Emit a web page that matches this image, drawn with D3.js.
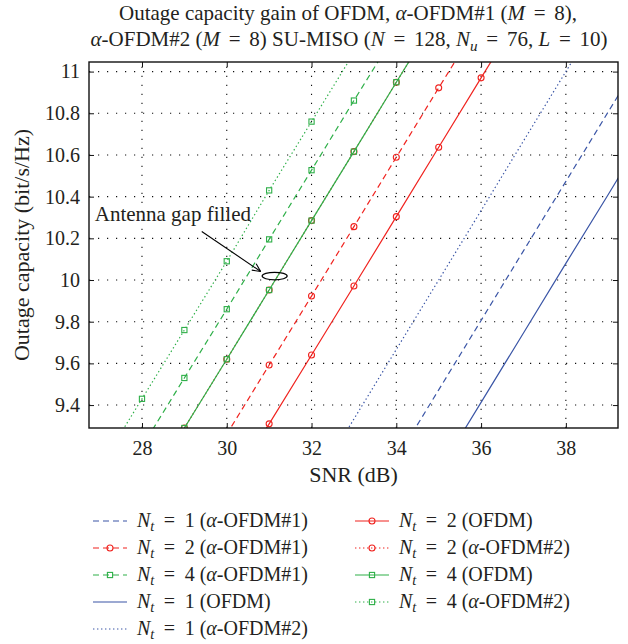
<!DOCTYPE html>
<html><head><meta charset="utf-8">
<script src="https://cdn.jsdelivr.net/npm/d3@7"></script>
<style>body{margin:0;background:#fff}</style>
</head><body>
<svg id="chart" width="628" height="644"></svg>
<script>
// ---------- data ----------
const snrTicks = [28, 30, 32, 34, 36, 38];
const capTicks = [9.4, 9.6, 9.8, 10, 10.2, 10.4, 10.6, 10.8, 11];
const snrDomain = [26.75, 39.23];
const capDomain = [9.29, 11.046];

// Nt = 1
const snr_nt1_ofdm = [35, 36, 37, 38, 39, 40];
const cap_nt1_ofdm = [9.08, 9.413, 9.746, 10.08, 10.41, 10.746];
const snr_nt1_a1 = [34, 35, 36, 37, 38, 39, 40];
const cap_nt1_a1 = [9.14, 9.473, 9.806, 10.14, 10.473, 10.807, 11.14];
const snr_nt1_a2 = [32, 33, 34, 35, 36, 37, 38, 39];
const cap_nt1_a2 = [9.0, 9.333, 9.667, 10.0, 10.333, 10.667, 11.0, 11.333];
// Nt = 2
const snr_nt2_ofdm = [30, 31, 32, 33, 34, 35, 36, 37];
const cap_nt2_ofdm = [8.98, 9.31, 9.64, 9.971, 10.304, 10.637, 10.97, 11.30];
const snr_nt2_a1 = [29, 30, 31, 32, 33, 34, 35, 36];
const cap_nt2_a1 = [8.93, 9.26, 9.592, 9.923, 10.256, 10.589, 10.922, 11.25];
const snr_nt2_a2 = [29, 30, 31, 32, 33, 34, 35];
const cap_nt2_a2 = [9.29, 9.62, 9.952, 10.285, 10.616, 10.949, 11.28];
// Nt = 4
const snr_nt4_ofdm = [29, 30, 31, 32, 33, 34, 35];
const cap_nt4_ofdm = [9.29, 9.62, 9.952, 10.285, 10.616, 10.949, 11.28];
const snr_nt4_a1 = [28, 29, 30, 31, 32, 33, 34];
const cap_nt4_a1 = [9.20, 9.53, 9.86, 10.195, 10.527, 10.861, 11.19];
const snr_nt4_a2 = [27, 28, 29, 30, 31, 32, 33];
const cap_nt4_a2 = [9.10, 9.43, 9.76, 10.09, 10.43, 10.76, 11.09];

// annotation (data units)
const annText = {snr: 26.885, cap: 10.284, label: "Antenna gap filled"};
const annArrow = {snr0: 29.41, cap0: 10.233, snr1: 30.80, cap1: 10.041};
const annEllipse = {snr: 31.13, cap: 10.019, dSnr: 0.295, dCap: 0.018};

// ---------- styling ----------
const BLUE = "#3a55a6", RED = "#f0231f", GREEN = "#2eaf48";
const DASH = "6,4", DOT = "1.4,2.6";
const FONT = "'Liberation Serif', 'DejaVu Serif', serif";
const TXT = "#231f20";

const series = [
  {snr: snr_nt1_ofdm, cap: cap_nt1_ofdm, color: BLUE, dash: null, marker: null, nt: 1, lab: "OFDM", alpha: false},
  {snr: snr_nt1_a1, cap: cap_nt1_a1, color: BLUE, dash: DASH, marker: null, nt: 1, lab: "-OFDM#1", alpha: true},
  {snr: snr_nt1_a2, cap: cap_nt1_a2, color: BLUE, dash: DOT, marker: null, nt: 1, lab: "-OFDM#2", alpha: true},
  {snr: snr_nt2_a1, cap: cap_nt2_a1, color: RED, dash: DASH, marker: "circle", nt: 2, lab: "-OFDM#1", alpha: true},
  {snr: snr_nt2_a2, cap: cap_nt2_a2, color: RED, dash: DOT, marker: "circle", nt: 2, lab: "-OFDM#2", alpha: true},
  {snr: snr_nt2_ofdm, cap: cap_nt2_ofdm, color: RED, dash: null, marker: "circle", nt: 2, lab: "OFDM", alpha: false},
  {snr: snr_nt4_a1, cap: cap_nt4_a1, color: GREEN, dash: DASH, marker: "square", nt: 4, lab: "-OFDM#1", alpha: true},
  {snr: snr_nt4_ofdm, cap: cap_nt4_ofdm, color: GREEN, dash: null, marker: "square", nt: 4, lab: "OFDM", alpha: false},
  {snr: snr_nt4_a2, cap: cap_nt4_a2, color: GREEN, dash: DOT, marker: "square", nt: 4, lab: "-OFDM#2", alpha: true}
];
// legend order: [seriesIndex]
const legendCol1 = [1, 3, 6, 0, 2];
const legendCol2 = [5, 4, 7, 8];

// ---------- layout ----------
const svg = d3.select("#chart");
const L = 89, R = 618, T = 62, B = 428;
const x = d3.scaleLinear().domain(snrDomain).range([L, R]);
const y = d3.scaleLinear().domain(capDomain).range([B, T]);

svg.append("defs").append("clipPath").attr("id", "clip")
  .append("rect").attr("x", L).attr("y", T).attr("width", R - L).attr("height", B - T);

// grid
const grid = svg.append("g").attr("stroke", "#111").attr("stroke-width", 1.1)
  .attr("stroke-dasharray", "1.2,7.8");
grid.selectAll(".vg").data(snrTicks).join("line")
  .attr("x1", d => x(d)).attr("x2", d => x(d)).attr("y1", B).attr("y2", T);
grid.selectAll(".hg").data(capTicks).join("line")
  .attr("y1", d => y(d)).attr("y2", d => y(d)).attr("x1", L).attr("x2", R);

// rich text helper: parts = [text, style]; " = " gets wider math spacing
function rich(textSel, parts, size, eqPad) {
  let pendingDy = 0;
  const sub = 0.22;
  parts.forEach(p => {
    const s = p[1] || "";
    const segs = p[0].split(" = ");
    segs.forEach((seg, k) => {
      if (k > 0) {
        const e = textSel.append("tspan").text(" =").attr("dx", eqPad);
        if (pendingDy) { e.attr("dy", pendingDy); pendingDy = 0; }
        const t2 = textSel.append("tspan").text(" " + seg).attr("dx", eqPad);
        if (s.includes("i")) t2.attr("font-style", "italic");
        return;
      }
      if (seg === "") return;
      const t = textSel.append("tspan").text(seg);
      if (s.includes("i")) t.attr("font-style", "italic");
      if (s.includes("sub")) { t.attr("dy", size * sub).attr("font-size", size * 0.72); pendingDy = -size * sub; }
      else if (pendingDy) { t.attr("dy", pendingDy); pendingDy = 0; }
    });
  });
}

// lines
const plot = svg.append("g").attr("clip-path", "url(#clip)");
const lineGen = d3.line().x(d => x(d[0])).y(d => y(d[1]));
function drawMarker(g, type, cx, cy, color) {
  if (type === "circle") {
    g.append("circle").attr("cx", cx).attr("cy", cy).attr("r", 3)
      .attr("fill", "none").attr("stroke", color).attr("stroke-width", 1.1);
  } else if (type === "square") {
    g.append("rect").attr("x", cx - 2.6).attr("y", cy - 2.6).attr("width", 5.2).attr("height", 5.2)
      .attr("fill", "none").attr("stroke", color).attr("stroke-width", 1.1);
  }
}
series.forEach(s => {
  const pts = s.snr.map((v, i) => [v, s.cap[i]]);
  plot.append("path").attr("d", lineGen(pts)).attr("fill", "none")
    .attr("stroke", s.color).attr("stroke-width", 1.2)
    .attr("stroke-dasharray", s.dash);
  if (s.marker) {
    pts.filter(p => p[0] >= snrDomain[0] && p[0] <= snrDomain[1] && p[1] >= capDomain[0] && p[1] <= capDomain[1])
      .forEach(p => drawMarker(plot, s.marker, x(p[0]), y(p[1]), s.color));
  }
});

// axes box + ticks (inside)
const TICKFS = 20;
const ax = svg.append("g");
ax.append("g").attr("transform", `translate(0,${B})`)
  .call(d3.axisBottom(x).tickValues(snrTicks).tickSizeInner(-5).tickSizeOuter(0).tickFormat(d3.format("d")))
  .call(g => { g.select(".domain").remove(); g.selectAll("text").attr("y", 0).attr("dy", 27); });
ax.append("g").attr("transform", `translate(0,${T})`)
  .call(d3.axisTop(x).tickValues(snrTicks).tickSizeInner(-5).tickSizeOuter(0).tickFormat(""))
  .call(g => g.select(".domain").remove());
ax.append("g").attr("transform", `translate(${L},0)`)
  .call(d3.axisLeft(y).tickValues(capTicks).tickSizeInner(-5).tickSizeOuter(0).tickFormat(d => d3.format("~g")(d)))
  .call(g => { g.select(".domain").remove(); g.selectAll("text").attr("dx", -6); });
ax.append("g").attr("transform", `translate(${R},0)`)
  .call(d3.axisRight(y).tickValues(capTicks).tickSizeInner(-5).tickSizeOuter(0).tickFormat(""))
  .call(g => g.select(".domain").remove());
ax.selectAll("text").attr("font-family", FONT).attr("font-size", TICKFS).attr("fill", TXT);
ax.selectAll(".tick line").attr("stroke", "#111").attr("stroke-width", 1);
svg.append("rect").attr("x", L).attr("y", T).attr("width", R - L).attr("height", B - T)
  .attr("fill", "none").attr("stroke", "#111").attr("stroke-width", 1.4);

// axis labels
svg.append("text").attr("x", (L + R) / 2).attr("y", 482).attr("text-anchor", "middle")
  .attr("font-family", FONT).attr("font-size", 22).attr("fill", TXT).text("SNR (dB)");
svg.append("text").attr("transform", `translate(29,${(T + B) / 2}) rotate(-90)`).attr("text-anchor", "middle")
  .attr("font-family", FONT).attr("font-size", 22).attr("fill", TXT).text("Outage capacity (bit/s/Hz)");

// title
const TFS = 21;
const t1 = svg.append("text").attr("x", 348).attr("y", 20).attr("text-anchor", "middle")
  .attr("font-family", FONT).attr("font-size", TFS).attr("fill", TXT);
rich(t1, [["Outage capacity gain of OFDM, "], ["α", "i"], ["-OFDM#1 ("], ["M", "i"], [" = 8),"]], TFS, 3.5);
const t2 = svg.append("text").attr("x", 349).attr("y", 46).attr("text-anchor", "middle")
  .attr("font-family", FONT).attr("font-size", TFS).attr("fill", TXT);
rich(t2, [["α", "i"], ["-OFDM#2 ("], ["M", "i"], [" = 8) SU-MISO ("], ["N", "i"], [" = 128, "], ["N", "i"], ["u", "isub"], [" = 76, "], ["L", "i"], [" = 10)"]], TFS, 3.5);

// annotation
svg.append("text").attr("x", x(annText.snr)).attr("y", y(annText.cap))
  .attr("font-family", FONT).attr("font-size", 21).attr("fill", TXT).text(annText.label);
const ax0 = x(annArrow.snr0), ay0 = y(annArrow.cap0), ax1 = x(annArrow.snr1), ay1 = y(annArrow.cap1);
svg.append("line").attr("x1", ax0).attr("y1", ay0).attr("x2", ax1).attr("y2", ay1)
  .attr("stroke", "#000").attr("stroke-width", 1.1);
const ang = Math.atan2(ay1 - ay0, ax1 - ax0);
[0.45, -0.45].forEach(da => {
  svg.append("line").attr("x1", ax1).attr("y1", ay1)
    .attr("x2", ax1 - 9 * Math.cos(ang + da)).attr("y2", ay1 - 9 * Math.sin(ang + da))
    .attr("stroke", "#000").attr("stroke-width", 1.1);
});
svg.append("ellipse").attr("cx", x(annEllipse.snr)).attr("cy", y(annEllipse.cap))
  .attr("rx", x(annEllipse.snr + annEllipse.dSnr) - x(annEllipse.snr))
  .attr("ry", y(annEllipse.cap) - y(annEllipse.cap + annEllipse.dCap))
  .attr("fill", "none").attr("stroke", "#000").attr("stroke-width", 1.2);

// legend
const LFS = 20;
const lg = svg.append("g");
function legendItem(si, lx, ly) {
  const s = series[si];
  lg.append("line").attr("x1", lx).attr("x2", lx + 34).attr("y1", ly).attr("y2", ly)
    .attr("stroke", s.color).attr("stroke-width", 1.2).attr("stroke-dasharray", s.dash);
  if (s.marker) drawMarker(lg, s.marker, lx + 17, ly, s.color);
  const tx = lg.append("text").attr("x", lx + 44).attr("y", ly + 6)
    .attr("font-family", FONT).attr("font-size", LFS).attr("fill", TXT);
  const parts = [["N", "i"], ["t", "isub"], [` = ${s.nt} (`]];
  if (s.alpha) parts.push(["α", "i"]);
  parts.push([s.lab + ")"]);
  rich(tx, parts, LFS, 4.5);
}
legendCol1.forEach((si, i) => legendItem(si, 93, 521 + i * 27));
legendCol2.forEach((si, i) => legendItem(si, 355, 521 + i * 27));
</script>
</body></html>
